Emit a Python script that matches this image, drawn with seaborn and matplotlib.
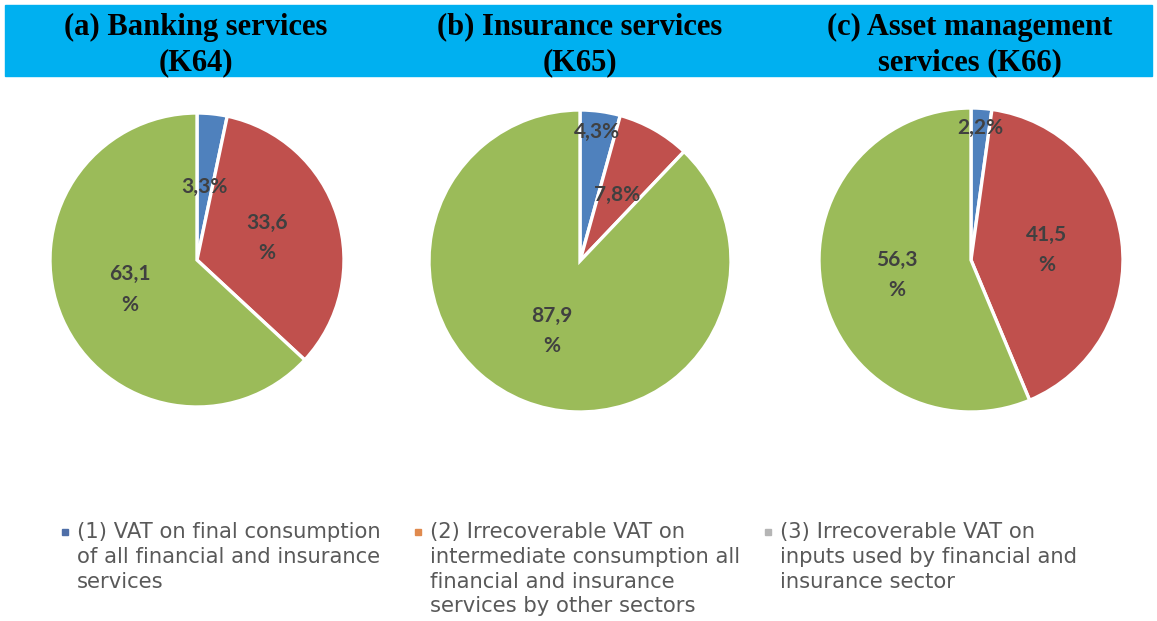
import numpy as np
import matplotlib.pyplot as plt
import seaborn as sns
from matplotlib.lines import Line2D

sns.set_theme(style='white')

# data
panel_titles = ['(a) Banking services\n(K64)',
                '(b) Insurance services\n(K65)',
                '(c) Asset management\nservices (K66)']
shares_k64 = [3.3, 33.6, 63.1]
shares_k65 = [4.3, 7.8, 87.9]
shares_k66 = [2.2, 41.5, 56.3]
legend_labels = ['(1) VAT on final consumption\nof all financial and insurance\nservices',
                 '(2) Irrecoverable VAT on\nintermediate consumption all\nfinancial and insurance\nservices by other sectors',
                 '(3) Irrecoverable VAT on\ninputs used by financial and\ninsurance sector']

slice_colors = ['#4F81BD', '#C0504D', '#9BBB59']
legend_colors = ['#4F6FA8', '#E08A4E', '#B5B5B5']

W, H = 1157, 621
fig = plt.figure(figsize=(W / 100, H / 100), dpi=100)

# header band
fig.patches.append(plt.Rectangle((5 / W, 1 - 76 / H), 1147 / W, 71 / H,
                                 transform=fig.transFigure, color='#00B0F0', zorder=0))
title_x = [196, 580, 970]
for x, t in zip(title_x, panel_titles):
    fig.text(x / W, 1 - 45 / H, t, ha='center', va='center', fontsize=22,
             fontweight='bold', family='Liberation Serif', color='black', linespacing=1.3)

# pie axes: (center x, center y, radius) in pixels
geoms = [(197, 260, 147), (580, 261, 151), (971, 260, 152)]
all_shares = [shares_k64, shares_k65, shares_k66]
small_dist = [0.5, 0.86, 0.87]

for (cx, cy, r), shares, sd in zip(geoms, all_shares, small_dist):
    ax = fig.add_axes([(cx - r) / W, 1 - (cy + r) / H, 2 * r / W, 2 * r / H])
    wedges, _ = ax.pie(shares, colors=slice_colors, startangle=90, counterclock=False,
                       wedgeprops=dict(edgecolor='white', linewidth=2.4))
    ax.set_xlim(-1, 1)
    ax.set_ylim(-1, 1)
    ax.set_aspect('equal')
    for w, v in zip(wedges, shares):
        ang = np.deg2rad((w.theta1 + w.theta2) / 2)
        if v < 5:
            d = sd
            label = f'{v:.1f}%'.replace('.', ',')
        elif v < 10:
            d = 0.5
            label = f'{v:.1f}%'.replace('.', ',')
        else:
            d = 0.5
            label = f'{v:.1f}'.replace('.', ',') + '\n%'
        ax.text(d * np.cos(ang), d * np.sin(ang), label, ha='center', va='center',
                fontsize=15, fontweight='bold', color='#404040', family='Lato',
                linespacing=1.64)

# legend
legend_x = [65, 418, 768]
for x, lab, c in zip(legend_x, legend_labels, legend_colors):
    fig.add_artist(Line2D([x / W], [1 - 532 / H], marker='s', markersize=4.5,
                          color=c, linestyle='none', transform=fig.transFigure))
    fig.text((x + 12) / W, 1 - 522 / H, lab, ha='left', va='top', fontsize=15.2,
             color='#595959', family='DejaVu Sans', linespacing=1.3)

plt.savefig('out.png', dpi=100)
